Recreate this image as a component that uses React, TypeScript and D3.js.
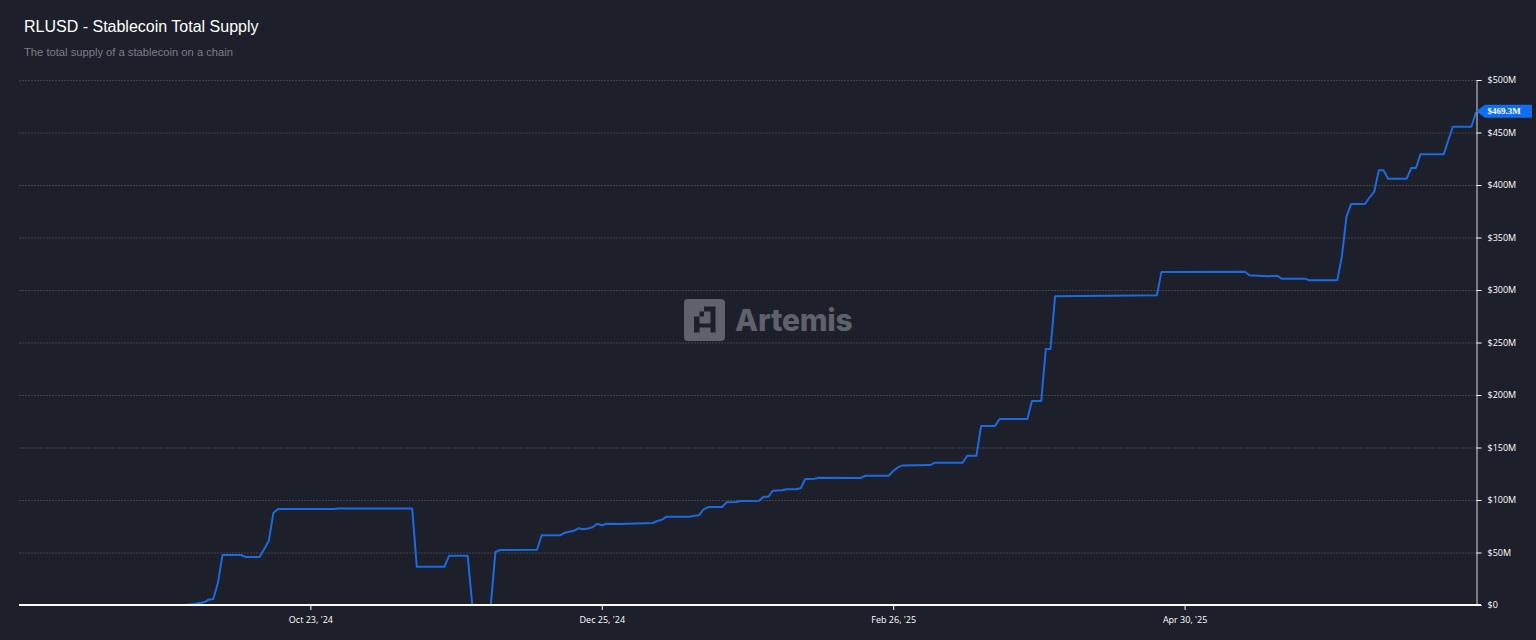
import React, { useEffect, useRef } from 'react';
import * as d3 from 'd3';

const START_DATE = '2024-08-21';
const END_DATE = '2025-07-02';

// days since START_DATE
const dayOffsets = [
  0, 36, 37, 38, 39, 40, 41, 42, 43, 44, 48, 49, 52, 53, 54, 55, 56, 68, 69, 85, 86, 92, 93, 97, 98,
  102, 103, 104, 112, 113, 117, 118, 119, 120, 121, 122, 123, 124, 125, 126, 127, 130, 137, 138, 139,
  140, 145, 146, 147, 148, 149, 152, 153, 155, 156, 160, 161, 162, 163, 165, 166, 168, 169, 170, 172,
  173, 182, 183, 188, 189, 190, 191, 197, 198, 204, 205, 207, 208, 211, 212, 218, 219, 221, 222, 223,
  224, 246, 247, 265, 266, 270, 272, 273, 278, 279, 285, 286, 287, 288, 291, 292, 293, 294, 295, 296,
  300, 301, 302, 303, 308, 309, 310, 314, 315,
];

// total supply in $M, same order as dayOffsets
const supplyValues = [
  0, 0, 0.5, 1, 1.9, 2.6, 5, 5.7, 21, 47.6, 47.6, 45.7, 45.7, 53, 61, 87.6, 91.4, 91.4, 91.9, 91.9, 36.5, 36.5, 47, 47, 0,
  0, 50.5, 52.4, 52.6, 66.4, 66.4, 68.9, 69.8, 70.8, 73, 72.1, 72.9, 74, 77.4, 75.9, 77.4, 77.1, 78.1, 80, 81.2,
  84.1, 84.1, 85, 85.4, 91.1, 93.3, 93.3, 97.8, 98.1, 99, 99.3, 103.1, 103.1, 108.9, 109.2, 110.2, 110.2, 111.1, 120, 120.3,
  121.2, 121, 123.1, 123.1, 127.6, 131, 132.9, 133.3, 135.5, 135.5, 142.2, 142.2, 170.5, 170.5, 177.1, 177.1, 194.3, 194.3, 243.8, 243.8,
  294, 294.9, 317.1, 317.4, 314, 313, 313.6, 310.8, 310.8, 309.2, 309.2, 331.7, 369.8, 381.9, 381.9, 388.3, 393.6, 414, 414, 406,
  406, 416.2, 416.2, 429.2, 429.2, 442.4, 455.5, 455.5, 469.3,
];

const xTickDates = ['2024-10-23', '2024-12-25', '2025-02-26', '2025-04-30'];
const yTickValues = [0, 50, 100, 150, 200, 250, 300, 350, 400, 450, 500];

const parseDate = d3.utcParse('%Y-%m-%d');
const formatDate = d3.utcFormat("%b %d, '%y");

const WIDTH = 1536;
const HEIGHT = 640;
const LEFT = 19;
const RIGHT = 1476;
const TOP = 80;
const BOTTOM = 605;
const BG = '#1d1f2a';
const BLUE = '#1a6be0';

const App: React.FC = () => {
  const svgRef = useRef<SVGSVGElement>(null);

  useEffect(() => {
    if (!svgRef.current) return;
    const svg = d3.select(svgRef.current);
    svg.selectAll('*').remove();

    const start = parseDate(START_DATE) as Date;
    const x = d3.scaleUtc()
      .domain([start, parseDate(END_DATE) as Date])
      .range([LEFT, RIGHT]);
    const y = d3.scaleLinear().domain([0, 500]).range([BOTTOM, TOP]);

    svg.append('rect').attr('width', WIDTH).attr('height', HEIGHT).attr('fill', BG);

    // Title
    svg.append('text')
      .attr('x', 24).attr('y', 32)
      .attr('font-family', '"Liberation Sans", Arial, sans-serif')
      .attr('font-size', 16)
      .attr('fill', '#ffffff')
      .text('RLUSD - Stablecoin Total Supply');
    svg.append('text')
      .attr('x', 24).attr('y', 56)
      .attr('font-family', '"Liberation Sans", Arial, sans-serif')
      .attr('font-size', 11.2)
      .attr('fill', '#7d7e86')
      .text('The total supply of a stablecoin on a chain');

    // Grid
    svg.append('g')
      .selectAll('line')
      .data(yTickValues.filter((v) => v > 0))
      .enter()
      .append('line')
      .attr('x1', LEFT).attr('x2', RIGHT)
      .attr('y1', (v) => y(v) + 0.5).attr('y2', (v) => y(v) + 0.5)
      .attr('stroke', '#42434d')
      .attr('stroke-dasharray', '2 1');

    // Watermark
    const mark = svg.append('g');
    mark.append('rect')
      .attr('x', 684).attr('y', 299).attr('width', 41).attr('height', 42).attr('rx', 4)
      .attr('fill', '#5f616b');
    mark.append('path')
      .attr('d', 'M704 306.5H715.5V332.5H710.5V327.5H699.5V332.5H694V316.5H699.5V311.5H704Z M704 311.5H710.5V323.5H699.5V316.5H704Z')
      .attr('fill', BG)
      .attr('fill-rule', 'evenodd');
    mark.append('text')
      .attr('x', 735).attr('y', 331)
      .attr('font-family', 'Inter, "Liberation Sans", sans-serif')
      .attr('font-size', 30)
      .attr('font-weight', 800)
      .attr('letter-spacing', -0.2)
      .attr('fill', '#5f616b')
      .text('Artemis');

    // Series
    const points = dayOffsets.map((d, i) => ({
      date: d3.utcDay.offset(start, d),
      value: supplyValues[i],
    }));
    const line = d3.line<{ date: Date; value: number }>()
      .x((d) => x(d.date))
      .y((d) => y(d.value));
    svg.append('path')
      .datum(points)
      .attr('d', line)
      .attr('fill', 'none')
      .attr('stroke', BLUE)
      .attr('stroke-width', 2)
      .attr('stroke-linejoin', 'round');

    // Axes
    const yAxis = svg.append('g')
      .attr('transform', `translate(${RIGHT + 0.5},0)`)
      .call(d3.axisRight(y).tickValues(yTickValues).tickSize(5).tickPadding(6)
        .tickFormat((v) => (v === 0 ? '$0' : `$${v}M`)));
    yAxis.select('.domain').attr('stroke', '#d8d8dc').attr('stroke-width', 1);
    yAxis.selectAll('line').attr('stroke', '#ffffff');
    yAxis.selectAll('text')
      .attr('font-family', '"Open Sans", sans-serif')
      .attr('font-size', 9)
      .attr('fill', '#ffffff');

    const xAxis = svg.append('g')
      .attr('transform', `translate(0,${BOTTOM})`)
      .call(d3.axisBottom(x)
        .tickValues(xTickDates.map((d) => parseDate(d) as Date))
        .tickSize(5).tickPadding(7)
        .tickFormat((d) => formatDate(d as Date)));
    xAxis.select('.domain').remove();
    xAxis.selectAll('line').attr('stroke', '#ffffff');
    xAxis.selectAll('text')
      .attr('font-family', '"Open Sans", sans-serif')
      .attr('font-size', 9)
      .attr('fill', '#ffffff');
    svg.append('line')
      .attr('x1', LEFT).attr('x2', RIGHT + 5)
      .attr('y1', BOTTOM).attr('y2', BOTTOM)
      .attr('stroke', '#ffffff')
      .attr('stroke-width', 2);

    // Last value tag
    const last = points[points.length - 1];
    const tagY = y(last.value) - 1;
    svg.append('path')
      .attr('d', `M${RIGHT} ${tagY} L${RIGHT + 9} ${tagY - 6.5} H1532 V${tagY + 6.5} H${RIGHT + 9} Z`)
      .attr('fill', '#0f6fee');
    svg.append('text')
      .attr('x', RIGHT + 11.5).attr('y', tagY + 3)
      .attr('font-family', '"Liberation Serif", serif')
      .attr('font-size', 9)
      .attr('font-weight', 700)
      .attr('fill', '#ffffff')
      .text(`$${last.value}M`);
  }, []);

  return (
    <svg
      ref={svgRef}
      width={WIDTH}
      height={HEIGHT}
      style={{ position: 'absolute', left: 0, top: 0, display: 'block' }}
    />
  );
};

export default App;
